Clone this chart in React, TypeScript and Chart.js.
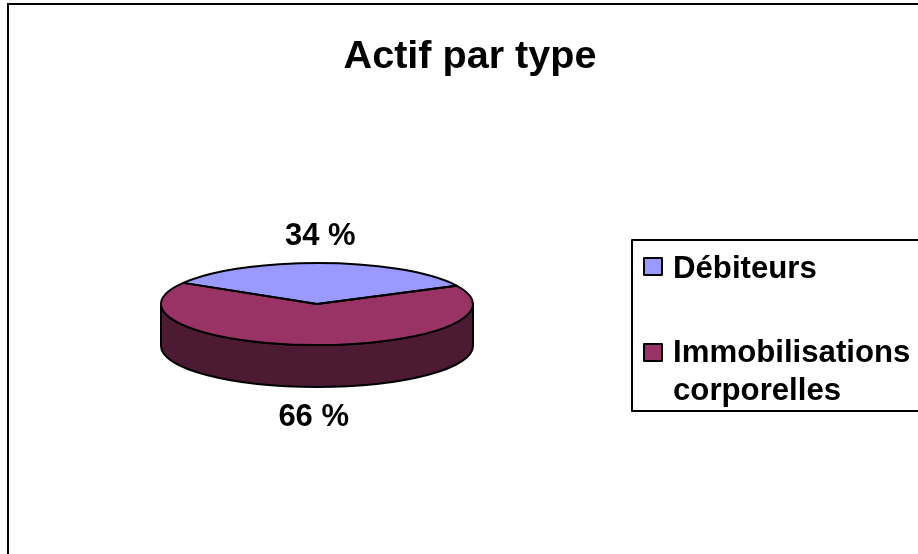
import React, { useEffect, useRef } from "react";
import { Chart, registerables } from "chart.js";

Chart.register(...registerables);

const chartTitle = "Actif par type";
const categories = ["Débiteurs", "Immobilisations corporelles"];
const values = [34, 66];
const pointLabels = ["34 %", "66 %"];
const sliceColors = ["#9999FF", "#993366"];
const wallColors = ["#4D4D80", "#4D1A33"];

const FONT = '"Liberation Sans", Arial, sans-serif';
const SQUASH = 41 / 156;
const DEPTH = 42;

function arcProps(el: any) {
  return el.getProps(["x", "y", "startAngle", "endAngle", "outerRadius"], true);
}

const pie3d = {
  id: "pie3d",
  beforeDraw(chart: any) {
    const { ctx } = chart;
    ctx.save();
    ctx.fillStyle = "#fff";
    ctx.fillRect(0, 0, chart.width, chart.height);
    ctx.fillStyle = "#000";
    ctx.fillRect(7, 3, chart.width - 7, 2);
    ctx.fillRect(7, 3, 2, chart.height - 3);
    ctx.font = `bold 39.6px ${FONT}`;
    ctx.textAlign = "center";
    ctx.textBaseline = "alphabetic";
    ctx.fillText(chartTitle, 470, 68);
    ctx.restore();
  },
  beforeDatasetsDraw(chart: any) {
    const { ctx } = chart;
    const arcs = chart.getDatasetMeta(0).data;
    ctx.save();
    ctx.lineWidth = 2;
    ctx.strokeStyle = "#000";
    ctx.lineJoin = "round";
    arcs.forEach((el: any, i: number) => {
      const p = arcProps(el);
      const segments: [number, number][] = [];
      for (const k of [-1, 0, 1]) {
        const lo = Math.max(p.startAngle, k * 2 * Math.PI);
        const hi = Math.min(p.endAngle, k * 2 * Math.PI + Math.PI);
        if (hi > lo) segments.push([lo, hi]);
      }
      segments.forEach(([lo, hi]) => {
        ctx.beginPath();
        ctx.ellipse(p.x, p.y + DEPTH, p.outerRadius, p.outerRadius * SQUASH, 0, lo, hi);
        ctx.ellipse(p.x, p.y, p.outerRadius, p.outerRadius * SQUASH, 0, hi, lo, true);
        ctx.closePath();
        ctx.fillStyle = wallColors[i];
        ctx.fill();
        ctx.stroke();
      });
    });
    ctx.restore();
    const p0 = arcProps(arcs[0]);
    ctx.save();
    ctx.translate(p0.x, p0.y);
    ctx.scale(1, SQUASH);
    ctx.translate(-p0.x, -p0.y);
  },
  afterDatasetsDraw(chart: any) {
    const { ctx } = chart;
    ctx.restore();
    const arcs = chart.getDatasetMeta(0).data;
    ctx.save();
    ctx.lineWidth = 2;
    ctx.strokeStyle = "#000";
    ctx.lineJoin = "round";
    arcs.forEach((el: any, i: number) => {
      const p = arcProps(el);
      ctx.beginPath();
      ctx.moveTo(p.x, p.y);
      ctx.ellipse(p.x, p.y, p.outerRadius, p.outerRadius * SQUASH, 0, p.startAngle, p.endAngle);
      ctx.closePath();
      ctx.stroke();

      const mid = (p.startAngle + p.endAngle) / 2;
      const lx = p.x + Math.cos(mid) * p.outerRadius * 0.55;
      const ly = p.y + Math.sin(mid) * p.outerRadius * SQUASH;
      ctx.fillStyle = "#000";
      ctx.font = `bold 31px ${FONT}`;
      ctx.textAlign = "center";
      ctx.textBaseline = "alphabetic";
      const below = Math.sin(mid) > 0;
      ctx.fillText(pointLabels[i], lx, below ? ly + DEPTH + 39 : ly - 18);
    });

    // Legend box
    ctx.fillStyle = "#fff";
    ctx.fillRect(631, 239, chart.width - 631, 173);
    ctx.fillStyle = "#000";
    ctx.strokeRect(632, 240, chart.width, 171);
    const rows = [
      { swatchY: 258, baselines: [278] },
      { swatchY: 344, baselines: [362, 400] },
    ];
    ctx.font = `bold 31.2px ${FONT}`;
    ctx.textAlign = "left";
    categories.forEach((label, i) => {
      const r = rows[i];
      ctx.fillStyle = sliceColors[i];
      ctx.fillRect(644, r.swatchY, 18, 17);
      ctx.strokeRect(644, r.swatchY, 18, 17);
      ctx.fillStyle = "#000";
      const parts = r.baselines.length > 1 ? label.split(" ") : [label];
      parts.forEach((t, j) => ctx.fillText(t, 673, r.baselines[j]));
    });
    ctx.restore();
  },
};

export default function App() {
  const ref = useRef<HTMLCanvasElement>(null);
  useEffect(() => {
    const chart = new Chart(ref.current as HTMLCanvasElement, {
      type: "pie",
      data: {
        labels: categories,
        datasets: [
          {
            data: values,
            backgroundColor: sliceColors,
            borderWidth: 0,
          },
        ],
      },
      options: {
        responsive: false,
        animation: false,
        rotation: -59,
        layout: { padding: { left: 161, right: 445, top: 148, bottom: 94 } },
        plugins: { legend: { display: false }, title: { display: false }, tooltip: { enabled: false } },
      },
      plugins: [pie3d],
    } as any);
    return () => chart.destroy();
  }, []);
  return (
    <canvas
      ref={ref}
      width={918}
      height={554}
      style={{ position: "absolute", left: 0, top: 0, display: "block" }}
    />
  );
}
